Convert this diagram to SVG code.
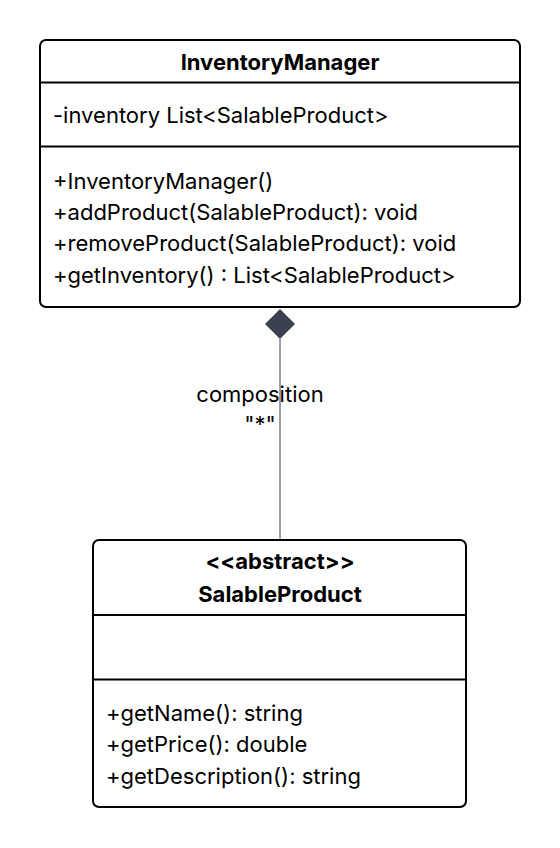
<svg xmlns="http://www.w3.org/2000/svg" width="560" height="848" viewBox="0 0 560 848">
<style>
.box{fill:#ffffff;stroke:#000000;stroke-width:2}
.div{stroke:#000000;stroke-width:2}
.t{font-family:Inter,"Noto Sans",sans-serif;font-size:22px;fill:#000000}
.b{font-weight:bold;text-anchor:middle}
.lbl{font-family:Inter,"Noto Sans",sans-serif;font-size:22px;fill:#000000;text-anchor:middle}
.conn{stroke:#3b4150;stroke-width:1;fill:none}
</style>
<rect width="560" height="848" fill="#ffffff"/>
<g id="connectors">
<line class="conn" x1="280" y1="339" x2="280" y2="540"/>
<polygon points="280,309 295,324 280,339 265,324" fill="#3b4150"/>
<text class="lbl" x="260" y="402">composition</text>
<text class="lbl" x="260" y="432">"*"</text>
</g>
<g id="InventoryManager">
<rect class="box" x="40" y="40" width="480" height="267" rx="6"/>
<line class="div" x1="40" y1="82.5" x2="520" y2="82.5"/>
<line class="div" x1="40" y1="146.5" x2="520" y2="146.5"/>
<text class="t b" x="280" y="70">InventoryManager</text>
<text class="t" x="53" y="123">-inventory List&lt;SalableProduct&gt;</text>
<text class="t" x="53" y="189">+InventoryManager()</text>
<text class="t" x="53" y="220">+addProduct(SalableProduct): void</text>
<text class="t" x="53" y="251">+removeProduct(SalableProduct): void</text>
<text class="t" x="53" y="283">+getInventory() : List&lt;SalableProduct&gt;</text>
</g>
<g id="SalableProduct">
<rect class="box" x="93" y="540" width="373" height="267" rx="6"/>
<line class="div" x1="93" y1="615" x2="466" y2="615"/>
<line class="div" x1="93" y1="679.5" x2="466" y2="679.5"/>
<text class="t b" x="280" y="569">&lt;&lt;abstract&gt;&gt;</text>
<text class="t b" x="280" y="602">SalableProduct</text>
<text class="t" x="106" y="721">+getName(): string</text>
<text class="t" x="106" y="752">+getPrice(): double</text>
<text class="t" x="106" y="784">+getDescription(): string</text>
</g>
</svg>
